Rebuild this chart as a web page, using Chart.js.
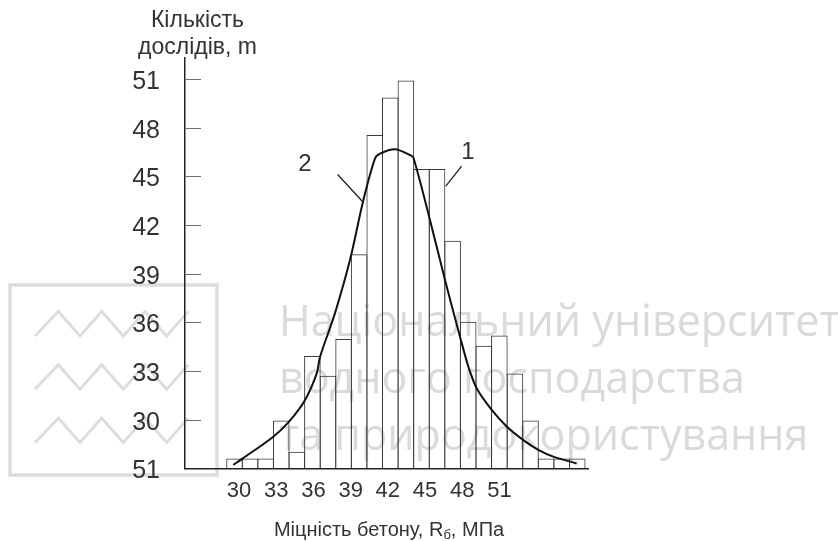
<!DOCTYPE html>
<html>
<head>
<meta charset="utf-8">
<script src="https://cdn.jsdelivr.net/npm/chart.js@4.4.1/dist/chart.umd.min.js"></script>
<style>
  html, body { margin: 0; padding: 0; background: #ffffff; }
  #wrap { width: 838px; height: 541px; position: relative; }
</style>
</head>
<body>
<div id="wrap"><canvas id="chart"></canvas></div>
<script>
// Histogram bins (1 = leftmost interval) and number of tests in each bin, in axis units
const binIndex = [1, 2, 3, 4, 5, 6, 7, 8, 9, 10, 11, 12, 13, 14, 15, 16, 17, 18, 19, 20, 21, 22, 23];
const barCounts = [0.2, 0.2, 0.2, 0.98, 0.34, 2.31, 1.9, 2.66, 4.4, 6.85, 7.62, 7.97, 6.15, 6.15, 4.68, 3.01, 2.52, 2.73, 1.95, 0.98, 0.2, 0.2, 0.2];

// Smoothed distribution curve (2), same units as the bins
const curveX = [0.92, 1.56, 3.49, 4.5, 5.52, 6.28, 6.49, 7.45, 8.41, 9.27, 10.02, 10.34, 11.3, 12.26, 12.48, 13.55, 14.51, 15.47, 16.01, 16.55, 17.51, 18.47, 19.54, 20.5, 21.46, 22.96];
const curveY = [0.07, 0.21, 0.65, 0.96, 1.4, 1.95, 2.29, 3.19, 4.28, 5.51, 6.37, 6.47, 6.56, 6.44, 6.39, 5.1, 3.87, 2.71, 2.09, 1.64, 1.2, 0.86, 0.58, 0.38, 0.24, 0.1];

// Axis labels
const yTickLabels = ['51', '30', '33', '36', '39', '42', '45', '48', '51'];
const xTickValues = [30, 33, 36, 39, 42, 45, 48, 51];

// Callout numbers with their leader lines (bin units)
const callouts = [
  { text: '2', at: [5.52, 6.25], from: [7.62, 6.04], to: [9.23, 5.48] },
  { text: '1', at: [15.99, 6.5], from: [15.58, 6.21], to: [14.56, 5.8] }
];

const INK = '#333333';
const SANS = '"Liberation Sans", Arial, sans-serif';

const decor = {
  id: 'decor',
  beforeDraw(chart) {
    const ctx = chart.ctx;
    ctx.save();
    // faded university emblem and name in the background
    ctx.strokeStyle = '#dddddd';
    ctx.lineWidth = 3.5;
    ctx.strokeRect(10, 285, 207, 190);
    ctx.lineWidth = 3;
    const zx = [35, 58.3, 80, 101.7, 123.3, 145, 166.7, 188.3];
    for (let r = 0; r < 3; r++) {
      const lo = 336 + r * 53.3, hi = 311.5 + r * 53.3;
      ctx.beginPath();
      zx.forEach((x, i) => {
        const y = i % 2 === 0 ? lo : hi;
        if (i === 0) ctx.moveTo(x, y); else ctx.lineTo(x, y);
      });
      ctx.stroke();
    }
    ctx.fillStyle = '#dadada';
    ctx.font = '43px "Open Sans", sans-serif';
    ctx.textBaseline = 'alphabetic';
    ctx.textAlign = 'left';
    ctx.fillText('Національний університет', 279, 336);
    ctx.fillText('водного господарства', 279, 393);
    ctx.fillText('та природокористування', 279, 450);
    ctx.restore();
  },
  afterDraw(chart) {
    const ctx = chart.ctx;
    const xs = chart.scales.x, ys = chart.scales.y;
    ctx.save();

    // short inward tick marks on the vertical axis
    ctx.strokeStyle = '#6e6e6e';
    ctx.lineWidth = 1;
    ys.ticks.forEach(t => {
      if (t.value === 0) return;
      const py = Math.round(ys.getPixelForValue(t.value)) + 0.5;
      ctx.beginPath();
      ctx.moveTo(ys.right, py);
      ctx.lineTo(ys.right + 16, py);
      ctx.stroke();
    });

    // callouts
    ctx.fillStyle = INK;
    ctx.strokeStyle = '#222222';
    ctx.lineWidth = 1.3;
    ctx.font = '24px ' + SANS;
    ctx.textAlign = 'center';
    ctx.textBaseline = 'middle';
    callouts.forEach(c => {
      ctx.fillText(c.text, xs.getPixelForValue(c.at[0]), ys.getPixelForValue(c.at[1]));
      ctx.beginPath();
      ctx.moveTo(xs.getPixelForValue(c.from[0]), ys.getPixelForValue(c.from[1]));
      ctx.lineTo(xs.getPixelForValue(c.to[0]), ys.getPixelForValue(c.to[1]));
      ctx.stroke();
    });

    // vertical axis title
    ctx.font = '23px ' + SANS;
    ctx.textBaseline = 'alphabetic';
    ctx.fillText('Кількість', 197.5, 27);
    ctx.fillText('дослідів, m', 197.5, 53.5);

    // horizontal axis title with subscript
    const mainFont = '20px ' + SANS, subFont = '13px ' + SANS;
    const parts = [['Міцність бетону, R', mainFont, 0], ['б', subFont, 3], [', МПа', mainFont, 0]];
    let total = 0;
    parts.forEach(p => { ctx.font = p[1]; total += ctx.measureText(p[0]).width; });
    let px = 389 - total / 2;
    ctx.textAlign = 'left';
    parts.forEach(p => {
      ctx.font = p[1];
      ctx.fillText(p[0], px, 536 + p[2]);
      px += ctx.measureText(p[0]).width;
    });
    ctx.restore();
  }
};

new Chart(document.getElementById('chart'), {
  data: {
    datasets: [
      {
        type: 'line',
        data: curveX.map((x, i) => ({ x, y: curveY[i] })),
        borderColor: '#111111',
        borderWidth: 2,
        pointRadius: 0,
        tension: 0.3,
        fill: false,
        order: 0
      },
      {
        type: 'bar',
        data: binIndex.map((b, i) => ({ x: b, y: barCounts[i] })),
        backgroundColor: 'rgba(0,0,0,0)',
        borderColor: '#3a3a3a',
        borderWidth: 1,
        borderSkipped: 'start',
        barPercentage: 1.064,
        categoryPercentage: 1,
        order: 1
      }
    ]
  },
  options: {
    responsive: true,
    maintainAspectRatio: false,
    devicePixelRatio: 1,
    animation: false,
    layout: { padding: { top: 58, left: 0, right: 250, bottom: 0 } },
    plugins: { legend: { display: false }, tooltip: { enabled: false }, title: { display: false } },
    scales: {
      x: {
        type: 'linear',
        display: false,
        offset: false,
        min: -2.177,
        max: 23.689
      },
      x2: {
        type: 'linear',
        position: 'bottom',
        offset: false,
        min: 25.647,
        max: 58.134,
        grid: { display: false, drawTicks: false },
        border: { display: true, color: '#222222', width: 1.5 },
        ticks: { font: { family: SANS, size: 22 }, color: INK, padding: 9, autoSkip: false, maxRotation: 0 },
        afterBuildTicks: s => { s.ticks = xTickValues.map(v => ({ value: v })); },
        afterFit: s => { s.height = 72.7; }
      },
      y: {
        type: 'linear',
        min: 0,
        max: 8.434,
        grid: { display: false, drawTicks: false },
        border: { display: true, color: '#222222', width: 1.5 },
        ticks: {
          stepSize: 1,
          includeBounds: false,
          font: { family: SANS, size: 25 },
          color: INK,
          padding: 25,
          labelOffset: 3,
          callback: v => yTickLabels[Math.round(v)]
        },
        afterFit: s => { s.width = 185; }
      }
    }
  },
  plugins: [decor]
});
</script>
</body>
</html>
